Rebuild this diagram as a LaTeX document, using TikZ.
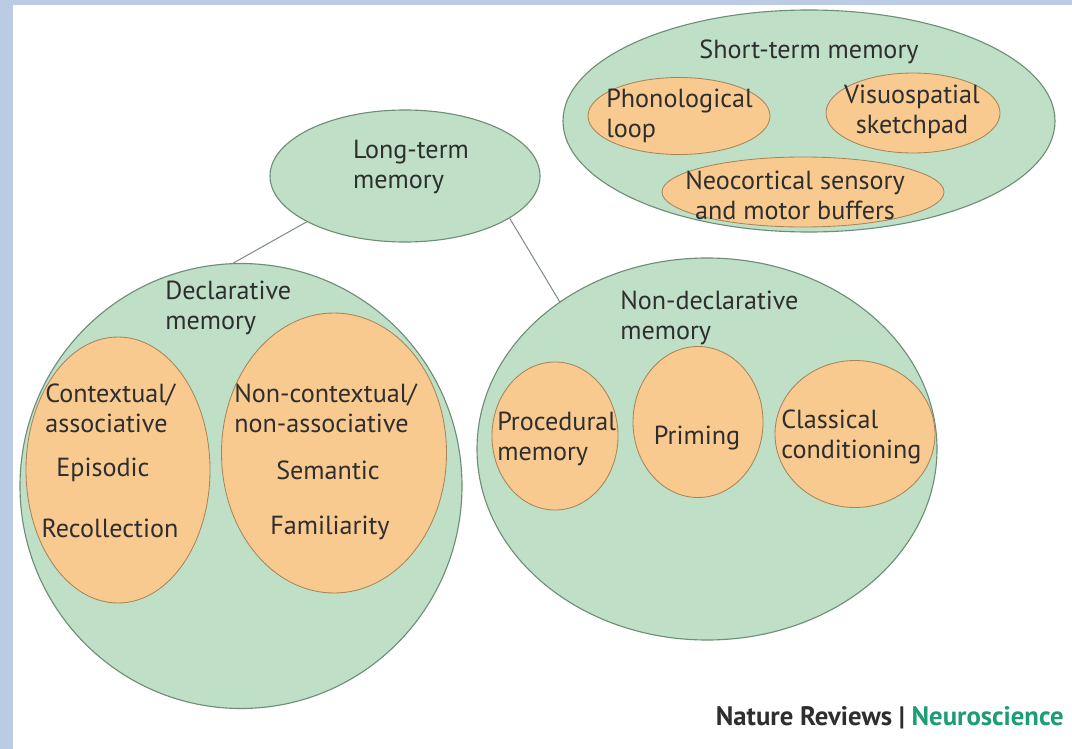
\documentclass[tikz,border=0pt]{standalone}
\usepackage{fontspec}
\setmainfont{PT Sans}
\usetikzlibrary{shapes.geometric, positioning}
\definecolor{framebl}{HTML}{BCCBE4}
\definecolor{memgreen}{HTML}{BFE0C6}
\definecolor{memedge}{HTML}{6F8E76}
\definecolor{suborange}{HTML}{F8CA8F}
\definecolor{subedge}{HTML}{A88458}
\definecolor{txtgray}{HTML}{2E2E2E}
\definecolor{linkgray}{HTML}{7D8A82}
\definecolor{nrvgreen}{HTML}{1E9C76}
\newlength\pxu \setlength\pxu{0.025cm}
\newcommand\memfont{\fontsize{18.6}{21.5}\selectfont}
\tikzstyle{memory} = [ellipse, draw = memedge, fill = memgreen, line width = 0.8pt, inner sep = 0pt]
\tikzstyle{subsys} = [ellipse, draw = subedge, fill = suborange, line width = 0.6pt, inner sep = 0pt]
\tikzstyle{memtext} = [inner sep = 0pt, text = txtgray, font = \memfont]
\tikzstyle{link} = [draw = linkgray, line width = 0.7pt]
\tikzset{memsize/.style 2 args = {minimum width = #1*\pxu, minimum height = #2*\pxu}}

\begin{document}
\begin{tikzpicture}[x = 0.025cm, y = -0.025cm]

	% Frame - - - - - - - - - - - - - - - - - - - - - - - - - - - - - - - - - -
	\useasboundingbox (0,0) rectangle (1072,749);
	\fill[white] (0,0) rectangle (1072,749);
	\fill[framebl] (0,0) rectangle (13,749);
	\fill[framebl] (0,0) rectangle (1072,5);

	% Memory systems - - - - - - - - - - - - - - - - - - - - - - - - - - - - - -
	\node(ltm) [memory, memsize = {270}{132}] at (405,176) {};
	\node(stm) [memory, memsize = {492}{222}] at (809,121) {};
	\node(decl) [memory, memsize = {442}{445}] at (241,486) {};
	\node(nondecl) [memory, memsize = {460}{382}] at (707,449) {};

	%SHORT-TERM . . . . . . . . . . . . . . . . . . . . . . . . . . . . . . . .
	\node(phon) [subsys, memsize = {182}{77}] at (679,116) {};
	\node(visuo) [subsys, memsize = {174}{80}] at (913,113) {};
	\node(neo) [subsys, memsize = {282}{70}] at (803,192) {};

	%DECLARATIVE . . . . . . . . . . . . . . . . . . . . . . . . . . . . . . . .
	\node(ctx) [subsys, memsize = {184}{266}] at (118,470) {};
	\node(nonctx) [subsys, memsize = {225}{280}] at (334,453) {};

	%NON-DECLARATIVE . . . . . . . . . . . . . . . . . . . . . . . . . . . . . .
	\node(proc) [subsys, memsize = {126}{148}] at (555,436) {};
	\node(prim) [subsys, memsize = {130}{151}] at (698,422) {};
	\node(classic) [subsys, memsize = {160}{147}] at (855,434) {};

	% Texts - - - - - - - - - - - - - - - - - - - - - - - - - - - - - - - - - -
	\node(ltmtext) [memtext, align = left] at (411,167) {Long-term\\memory};
	\node(stmtext) [memtext] at (809,52) {Short-term memory};
	\node(phontext) [memtext, align = left, anchor = west] at (606,116)
		{Phonological\\loop};
	\node(visuotext) [memtext, align = center] at (912,112)
		{Visuospatial\\sketchpad};
	\node(neotext) [memtext, align = center] at (795,195)
		{Neocortical sensory\\and motor buffers};

	\node(decltext) [memtext, align = left, anchor = west] at (165,308)
		{Declarative\\memory};
	\node(ctxtext) [memtext, align = left, anchor = west] at (45,408)
		{Contextual/\\associative};
	\node(episodic) [memtext] at (103,470) {Episodic};
	\node(recoll) [memtext] at (110,528) {Recollection};
	\node(nonctxtext) [memtext, align = left, anchor = west] at (234,408)
		{Non-contextual/\\non-associative};
	\node(semantic) [memtext] at (328,470) {Semantic};
	\node(familiar) [memtext] at (330,528) {Familiarity};

	\node(nondecltext) [memtext, align = left, anchor = west] at (620,318)
		{Non-declarative\\memory};
	\node(proctext) [memtext, align = left, anchor = west] at (497,439)
		{Procedural\\memory};
	\node(primtext) [memtext] at (697,438) {Priming};
	\node(classictext) [memtext, align = left, anchor = west] at (781,437)
		{Classical\\conditioning};

	\node(credit) [anchor = east, inner sep = 0pt, text = txtgray, font = \bfseries\fontsize{19}{22}\selectfont] at (1064,718)
		{Nature Reviews | \textcolor{nrvgreen}{Neuroscience}};

	% Links - - - - - - - - - - - - - - - - - - - - - - - - - - - - - - - - - -
	\draw[link](ltm.205.6)--(decl.92.8);
	\draw[link](ltm.338.3)--(nondecl.135.6);

\end{tikzpicture}
\end{document}
